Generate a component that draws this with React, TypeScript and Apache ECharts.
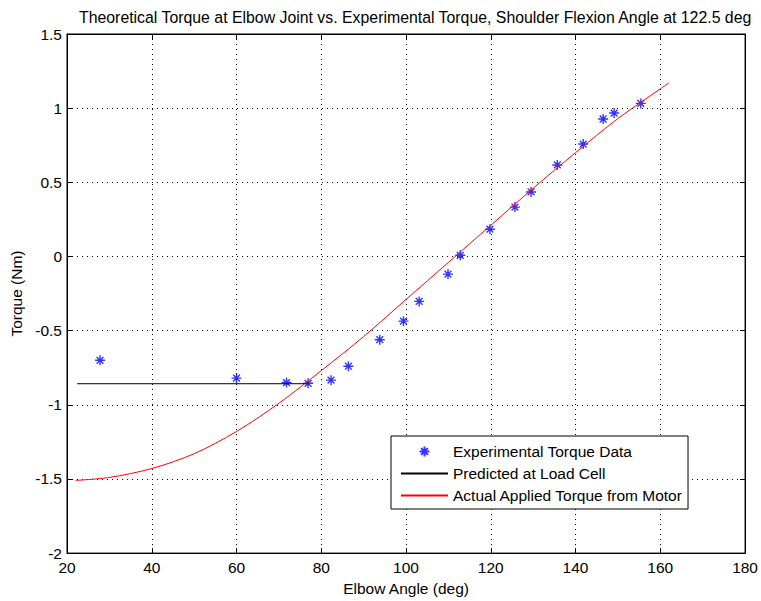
import React, { useEffect, useRef } from "react";
import * as echarts from "echarts";

// Experimental torque measurements: elbow angle (deg) and torque (Nm)
const expAngles = [27.8, 60.0, 71.8, 76.9, 82.3, 86.4, 93.8, 99.4, 103.1, 109.9, 112.8, 119.8, 125.7, 129.5, 135.7, 141.8, 146.5, 149.1, 155.4];
const expTorque = [-0.70, -0.82, -0.85, -0.855, -0.834, -0.74, -0.561, -0.436, -0.303, -0.119, 0.008, 0.184, 0.333, 0.435, 0.617, 0.758, 0.927, 0.967, 1.032];

// Torque predicted at the load cell (constant segment)
const loadCellAngles = [22.4, 77.0];
const loadCellTorque = [-0.858, -0.858];

// Torque applied by the motor, sampled along the elbow range
const motorAngles = [22, 30, 40, 50, 60, 70, 80, 90, 100, 110, 120, 130, 140, 150, 160, 162];
const motorTorque = [-1.51, -1.49, -1.43, -1.33, -1.18, -0.99, -0.77, -0.54, -0.29, -0.04, 0.21, 0.46, 0.70, 0.93, 1.13, 1.17];

const titleText = "Theoretical Torque at Elbow Joint vs. Experimental Torque, Shoulder Flexion Angle at 122.5 deg";
const xName = "Elbow Angle (deg)";
const yName = "Torque (Nm)";
const seriesNames = ["Experimental Torque Data", "Predicted at Load Cell", "Actual Applied Torque from Motor"];

const FONT = 'Arial, "Liberation Sans", Helvetica, sans-serif';
const ASTERISK = "path://M5,0L5,10M0,5L10,5M1.6,1.6L8.4,8.4M1.6,8.4L8.4,1.6";

const zip = (xs: number[], ys: number[]) => xs.map((x, i) => [x, ys[i]]);

// Legend entry for a plain line: keep the line, hide the marker
const lineOnly = (name: string) => ({ name, itemStyle: { opacity: 0 } });

export default function App() {
  const ref = useRef<HTMLDivElement>(null);

  useEffect(() => {
    if (!ref.current) return;
    const chart = echarts.init(ref.current, undefined, { renderer: "svg" });

    const gridLine = { show: true, lineStyle: { color: "#000", width: 1, type: [1, 4] as any } };
    const axisLine = { show: true, onZero: false, lineStyle: { color: "#000", width: 1 } };
    const tick = { show: true, inside: true, length: 5, lineStyle: { color: "#000" } };
    const label = { color: "#000", fontSize: 15.5, fontFamily: FONT };

    chart.setOption({
      animation: false,
      backgroundColor: "#fff",
      title: {
        text: titleText,
        left: 74,
        top: 4,
        textStyle: { fontSize: 15.85, fontWeight: "normal", color: "#000", fontFamily: FONT },
      },
      grid: { left: 67, right: 14, top: 34, bottom: 44, show: true, borderColor: "#000", borderWidth: 1 },
      legend: {
        orient: "vertical",
        left: 391,
        top: 436,
        padding: [7, 5, 5, 9],
        itemWidth: 47,
        itemHeight: 10,
        itemGap: 5,
        borderColor: "#000",
        borderWidth: 1,
        backgroundColor: "#fff",
        borderRadius: 0,
        textStyle: { fontSize: 15.5, color: "#000", fontFamily: FONT, lineHeight: 17 },
        data: [{ name: seriesNames[0] }, lineOnly(seriesNames[1]), lineOnly(seriesNames[2])],
      },
      xAxis: [
        {
          type: "value",
          min: 20,
          max: 180,
          interval: 20,
          name: xName,
          nameLocation: "middle",
          nameGap: 24,
          nameTextStyle: { fontSize: 15.5, color: "#000", fontFamily: FONT },
          axisLine,
          axisTick: tick,
          axisLabel: { ...label, margin: 6 },
          splitLine: gridLine,
        },
        {
          type: "value",
          position: "top",
          min: 20,
          max: 180,
          interval: 20,
          axisLine,
          axisTick: tick,
          axisLabel: { show: false },
          splitLine: { show: false },
        },
      ],
      yAxis: [
        {
          type: "value",
          min: -2,
          max: 1.5,
          interval: 0.5,
          name: yName,
          nameLocation: "middle",
          nameGap: 27,
          nameTextStyle: { fontSize: 15.5, color: "#000", fontFamily: FONT },
          axisLine,
          axisTick: tick,
          axisLabel: { ...label, margin: 5 },
          splitLine: gridLine,
        },
        {
          type: "value",
          position: "right",
          min: -2,
          max: 1.5,
          interval: 0.5,
          axisLine,
          axisTick: tick,
          axisLabel: { show: false },
          splitLine: { show: false },
        },
      ],
      series: [
        {
          name: seriesNames[0],
          type: "scatter",
          data: zip(expAngles, expTorque),
          symbol: ASTERISK,
          symbolSize: 10,
          symbolKeepAspect: true,
          itemStyle: { color: "#0000ff", borderColor: "#0000ff", borderWidth: 1.4 },
        },
        {
          name: seriesNames[1],
          type: "line",
          data: zip(loadCellAngles, loadCellTorque),
          symbol: "none",
          lineStyle: { color: "#000000", width: 1 },
          itemStyle: { color: "#000000" },
        },
        {
          name: seriesNames[2],
          type: "line",
          data: zip(motorAngles, motorTorque),
          symbol: "none",
          smooth: 0.3,
          lineStyle: { color: "#ff0000", width: 1 },
          itemStyle: { color: "#ff0000" },
        },
      ],
    });

    return () => chart.dispose();
  }, []);

  return (
    <div
      ref={ref}
      style={{ position: "fixed", left: 0, top: 0, width: 761, height: 601, background: "#fff" }}
    />
  );
}
